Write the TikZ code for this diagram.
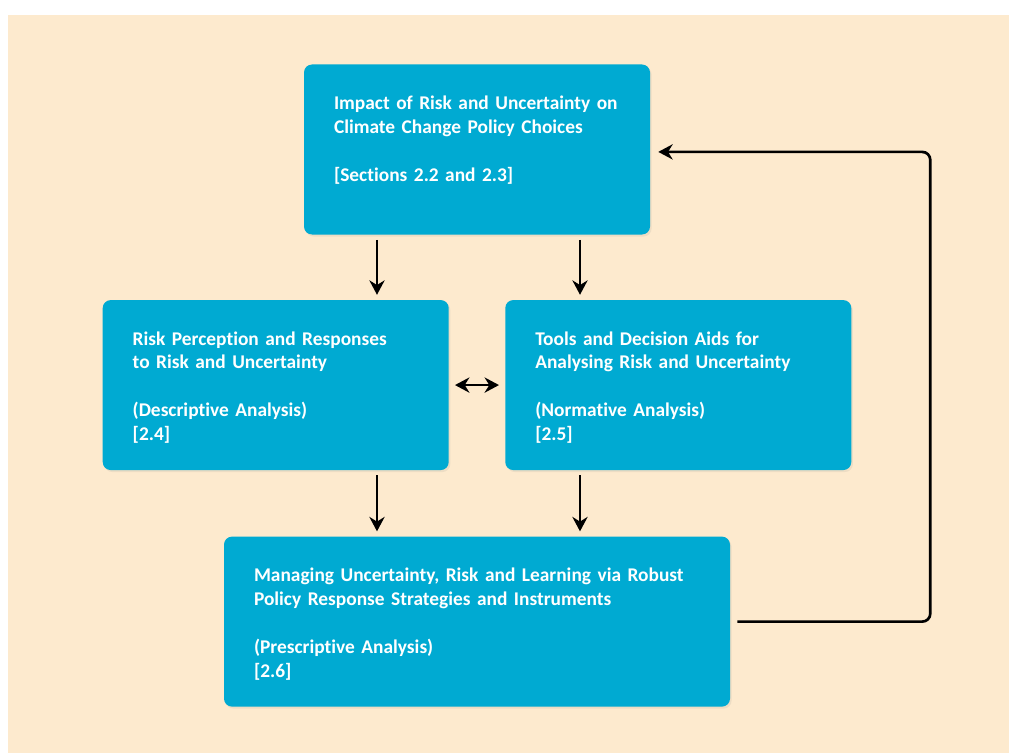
\documentclass[tikz,border=0pt]{standalone}
\usepackage{fontspec}
\setmainfont{Carlito}[Ligatures={NoCommon}]
\usetikzlibrary{arrows.meta, positioning, shadows}
\definecolor{boxcyan}{RGB}{0,170,210}
\definecolor{panel}{RGB}{253,234,206}

\begin{document}
\begin{tikzpicture}[
    box/.style={fill=boxcyan, rounded corners=0.2cm, text=white, font=\bfseries\fontsize{13.8}{17}\selectfont, align=left, text width=7.15cm, inner xsep=0.75cm, inner ysep=0pt, text height=1.125cm, text depth=3.125cm, drop shadow={opacity=0.12, shadow xshift=0.04cm, shadow yshift=-0.05cm}},
    wide/.style={text width=11.15cm},
    arrow/.style={-{Stealth[length=3.6mm, width=3.8mm]}, line width=1.9pt, black}
]
\useasboundingbox (0,0) rectangle (25.225,-18.825);
\fill[panel] (0.2,-0.375) rectangle (25.225,-18.825);

\node[box] (impact) at (11.925,-3.7375) {Impact of Risk and Uncertainty on\\Climate Change Policy Choices\\[17pt][Sections 2.2 and 2.3]};
\node[box, below left=1.625cm and 0.7cm of impact.south] (riskper) {Risk Perception and Responses\\to Risk and Uncertainty\\[17pt](Descriptive Analysis)\\{[2.4]}};
\node[box, below right=1.625cm and 0.7cm of impact.south] (tools) {Tools and Decision Aids for\\Analysing Risk and Uncertainty\\[17pt](Normative Analysis)\\{[2.5]}};
\node[box, wide, below=1.65cm of riskper.south east, xshift=0.7cm] (managing) {Managing Uncertainty, Risk and Learning via Robust\\Policy Response Strategies and Instruments\\[17pt](Prescriptive Analysis)\\{[2.6]}};
\coordinate[right=5cm of managing.east] (loop);

\draw[arrow, shorten <=0.125cm, shorten >=0.125cm] ([xshift=-2.5cm]impact.south) -- ([xshift=-2.5cm]impact.south |- riskper.north);
\draw[arrow, shorten <=0.125cm, shorten >=0.125cm] ([xshift=2.575cm]impact.south) -- ([xshift=2.575cm]impact.south |- tools.north);
\draw[arrow, {Stealth[length=3.6mm, width=3.8mm]}-{Stealth[length=3.6mm, width=3.8mm]}, shorten <=0.15cm, shorten >=0.15cm] (riskper.east) -- (tools.west);
\draw[arrow, shorten <=0.125cm, shorten >=0.125cm] ([xshift=-2.5cm]impact.south |- riskper.south) -- ([xshift=-2.5cm]impact.south |- managing.north);
\draw[arrow, shorten <=0.125cm, shorten >=0.125cm] ([xshift=2.575cm]impact.south |- tools.south) -- ([xshift=2.575cm]impact.south |- managing.north);
\draw[arrow, rounded corners=0.2cm] ([xshift=0.175cm]managing.east) -- (loop) |- ([xshift=0.2cm, yshift=-0.06cm]impact.east);
\end{tikzpicture}
\end{document}
